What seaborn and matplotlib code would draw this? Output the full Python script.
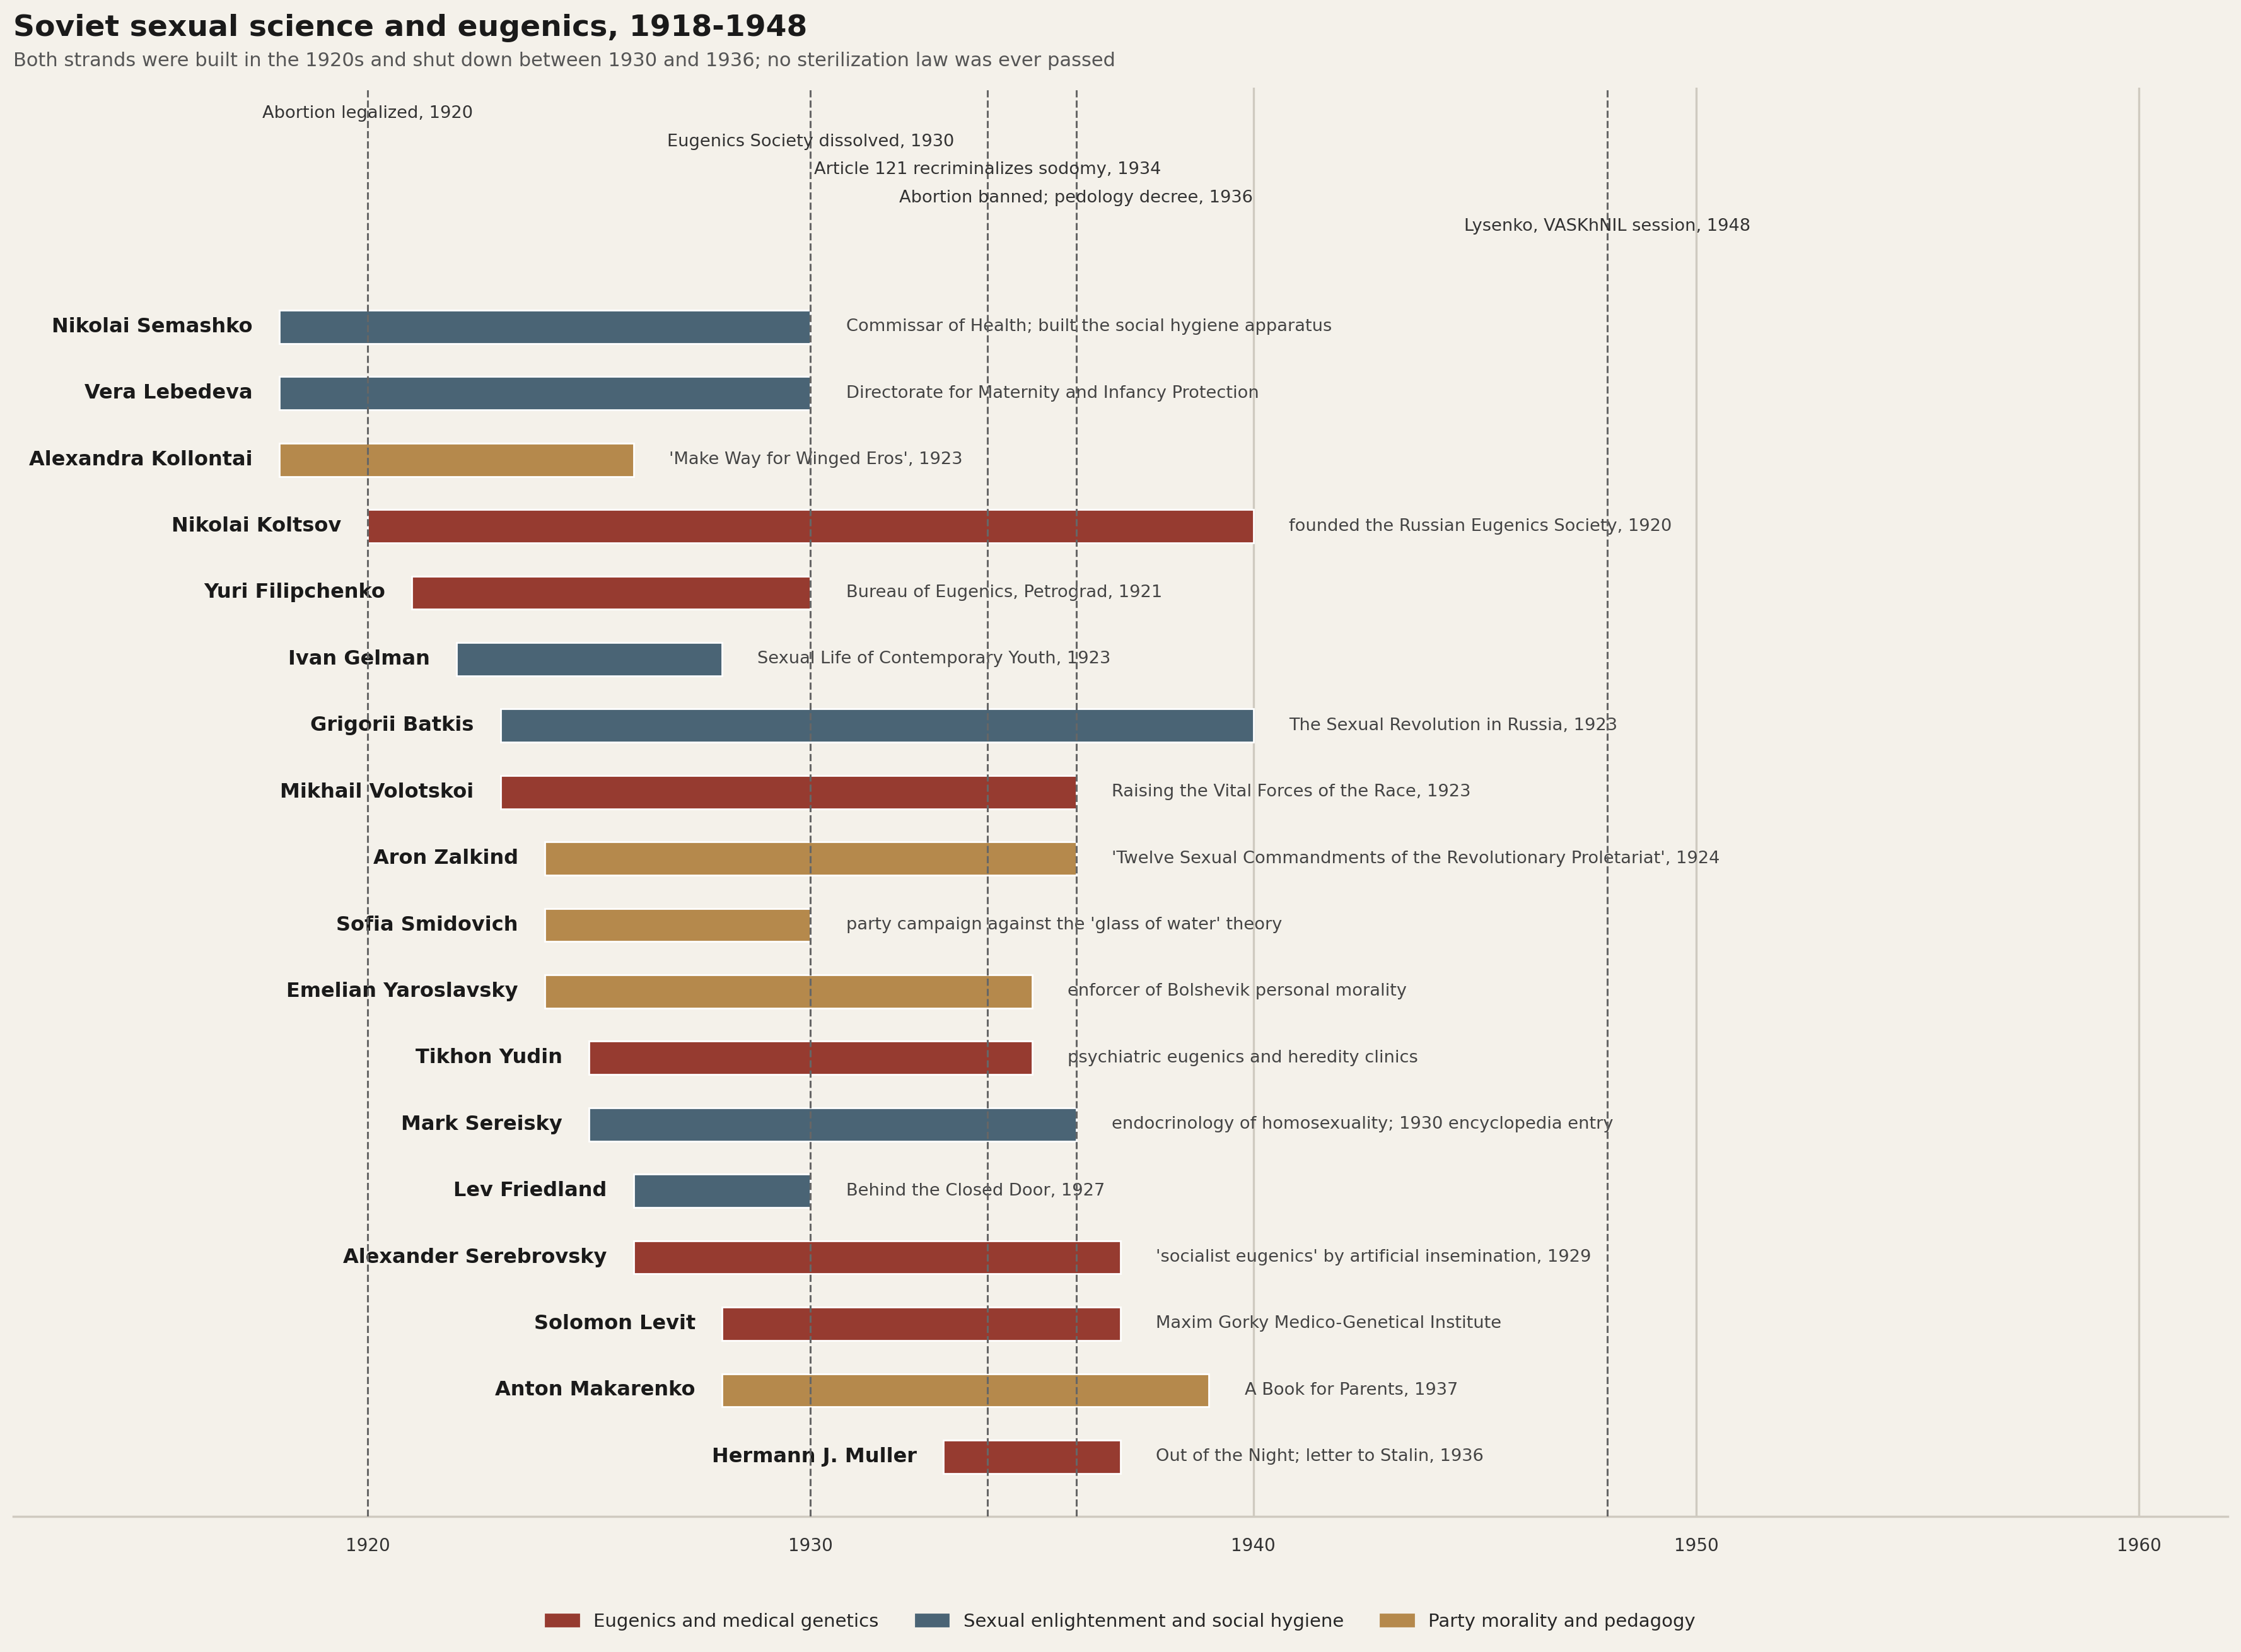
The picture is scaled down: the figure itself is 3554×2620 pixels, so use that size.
import matplotlib
matplotlib.use("Agg")
import matplotlib.pyplot as plt
from matplotlib.patches import Patch
import seaborn as sns
import pandas as pd

names = ["Nikolai Semashko", "Vera Lebedeva", "Alexandra Kollontai", "Nikolai Koltsov",
         "Yuri Filipchenko", "Ivan Gelman", "Grigorii Batkis", "Mikhail Volotskoi",
         "Aron Zalkind", "Sofia Smidovich", "Emelian Yaroslavsky", "Tikhon Yudin",
         "Mark Sereisky", "Lev Friedland", "Alexander Serebrovsky", "Solomon Levit",
         "Anton Makarenko", "Hermann J. Muller"]
starts = [1918, 1918, 1918, 1920, 1921, 1922, 1923, 1923, 1924, 1924, 1924, 1925, 1925, 1926, 1926, 1928, 1928, 1933]
ends = [1930, 1930, 1926, 1940, 1930, 1928, 1940, 1936, 1936, 1930, 1935, 1935, 1936, 1930, 1937, 1937, 1939, 1937]
strands = ["hyg", "hyg", "party", "eug", "eug", "hyg", "hyg", "eug", "party", "party",
           "party", "eug", "hyg", "hyg", "eug", "eug", "party", "eug"]
notes = ["Commissar of Health; built the social hygiene apparatus",
         "Directorate for Maternity and Infancy Protection",
         "'Make Way for Winged Eros', 1923",
         "founded the Russian Eugenics Society, 1920",
         "Bureau of Eugenics, Petrograd, 1921",
         "Sexual Life of Contemporary Youth, 1923",
         "The Sexual Revolution in Russia, 1923",
         "Raising the Vital Forces of the Race, 1923",
         "'Twelve Sexual Commandments of the Revolutionary Proletariat', 1924",
         "party campaign against the 'glass of water' theory",
         "enforcer of Bolshevik personal morality",
         "psychiatric eugenics and heredity clinics",
         "endocrinology of homosexuality; 1930 encyclopedia entry",
         "Behind the Closed Door, 1927",
         "'socialist eugenics' by artificial insemination, 1929",
         "Maxim Gorky Medico-Genetical Institute",
         "A Book for Parents, 1937",
         "Out of the Night; letter to Stalin, 1936"]

event_years = [1920, 1930, 1934, 1936, 1948]
event_labels = ["Abortion legalized, 1920", "Eugenics Society dissolved, 1930",
                "Article 121 recriminalizes sodomy, 1934",
                "Abortion banned; pedology decree, 1936", "Lysenko, VASKhNIL session, 1948"]

colors = {"eug": "#963b30", "hyg": "#4a6475", "party": "#b5894c"}
legend_names = {"eug": "Eugenics and medical genetics",
                "hyg": "Sexual enlightenment and social hygiene",
                "party": "Party morality and pedagogy"}

df = pd.DataFrame({"name": names, "start": starts, "end": ends, "strand": strands, "note": notes})

sns.set_theme(style="white")
bg = "#f4f1ea"
fig, ax = plt.subplots(figsize=(17.77, 13.1), dpi=200)
fig.patch.set_facecolor(bg)
ax.set_facecolor(bg)
fig.subplots_adjust(left=0.006, right=0.994, top=0.947, bottom=0.082)

for x in [1940, 1950, 1960]:
    ax.axvline(x, color="#cfcac0", lw=1.2, zorder=0)

for i, r in df.iterrows():
    ax.barh(i, r.end - r.start, left=r.start, height=0.5, color=colors[r.strand], zorder=2)
    ax.text(r.start - 0.6, i, r["name"], ha="right", va="center", fontsize=11.5,
            fontweight="bold", color="#1a1a1a")
    ax.text(r.end + 0.8, i, r.note, ha="left", va="center", fontsize=9.8, color="#444444")

ev_y = [-3.21, -2.78, -2.37, -1.94, -1.51]
for yr, lab, yy in zip(event_years, event_labels, ev_y):
    ax.axvline(yr, color="#666666", ls="--", lw=1.1, zorder=3)
    ax.text(yr, yy, lab, ha="center", va="center", fontsize=9.8, color="#333333", zorder=4)

ax.set_xlim(1912, 1962)
ax.set_ylim(17.9, -3.6)
ax.set_yticks([])
ax.set_xticks([1920, 1930, 1940, 1950, 1960])
ax.tick_params(axis="x", labelsize=10, colors="#333333", length=0, pad=12)
for s in ["top", "left", "right"]:
    ax.spines[s].set_visible(False)
ax.spines["bottom"].set_color("#cfcac0")

handles = [Patch(color=colors[k], label=legend_names[k]) for k in ["eug", "hyg", "party"]]
fig.legend(handles=handles, loc="lower center", ncol=3, frameon=False, fontsize=10.5,
           bbox_to_anchor=(0.5, 0.003), handlelength=1.8, handleheight=0.6, columnspacing=2)

fig.text(0.006, 0.983, "Soviet sexual science and eugenics, 1918-1948", fontsize=17,
         fontweight="bold", color="#1a1a1a", va="center")
fig.text(0.006, 0.963, "Both strands were built in the 1920s and shut down between 1930 and 1936; "
         "no sterilization law was ever passed", fontsize=11, color="#555555", va="center")

fig.savefig("out.png", dpi=200, facecolor=bg)
